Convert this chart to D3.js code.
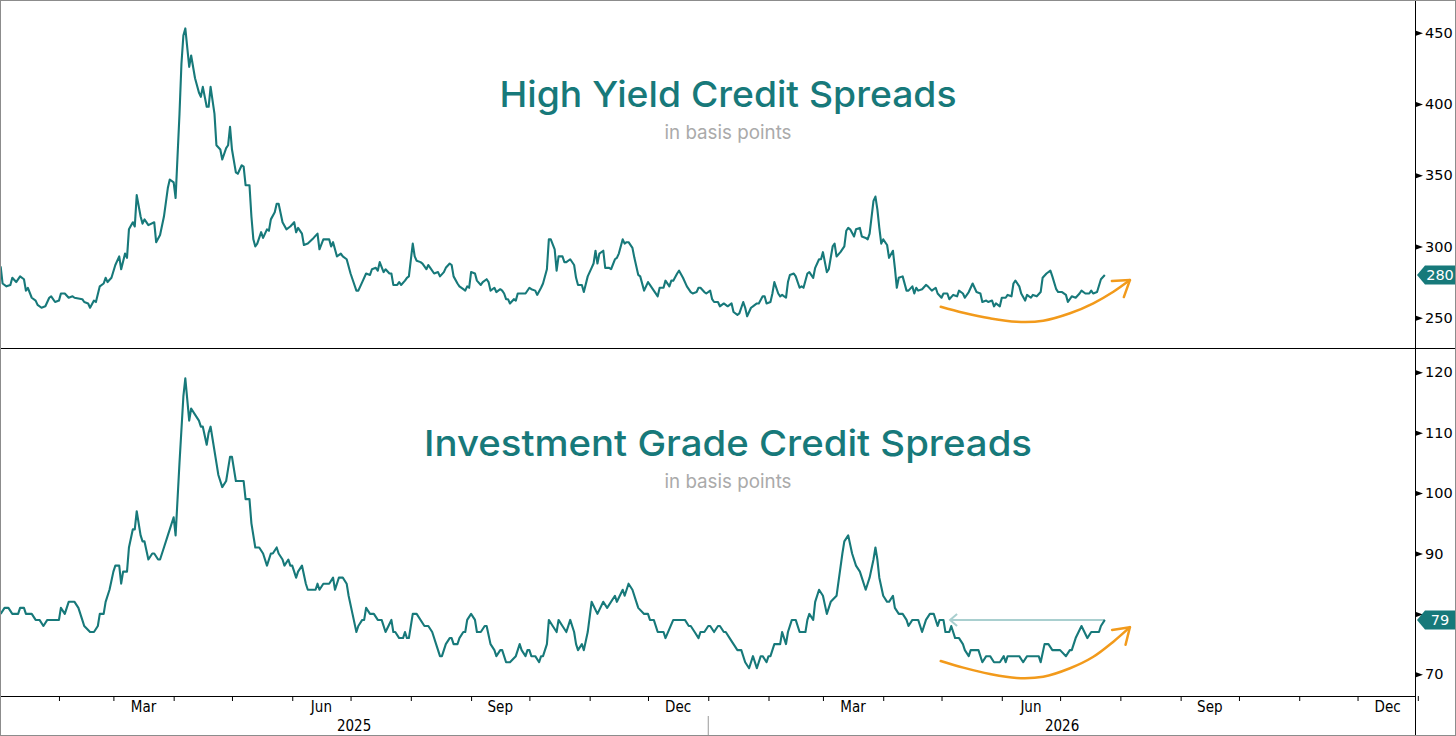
<!DOCTYPE html>
<html>
<head>
<meta charset="utf-8">
<script src="https://cdn.jsdelivr.net/npm/d3@7"></script>
<style>
  html, body { margin: 0; padding: 0; background: #fff; }
  svg { display: block; }
</style>
</head>
<body>
<svg id="chart" width="1456" height="736"></svg>
<script>

/*
	Run the action when the DOM is ready
*/
function whenDocumentLoaded(action) {
	if (document.readyState === "loading") {
		document.addEventListener("DOMContentLoaded", action);
	} else {
		action();
	}
}

// days are counted from 1 Jan 2025
const START = new Date(2025, 0, 1);
const END = new Date(2027, 0, 1);

const HY_DAYS = [1, 2, 4, 6, 7, 9, 11, 13, 14, 15, 17, 19, 20, 22, 24, 26, 27, 29, 31, 32, 34, 36, 38, 39, 43, 44, 46, 47, 49, 50,
    52, 54, 55, 56, 58, 60, 62, 63, 65, 66, 67, 69, 70, 71, 73, 74, 75, 77, 80, 81, 83, 85, 87, 88, 90, 91, 93, 94, 95, 96,
    98, 99, 101, 103, 104, 105, 107, 108, 109, 111, 112, 114, 115, 117, 118, 119, 120, 122, 123, 125, 126, 127, 129, 130, 131, 132, 133, 135, 136, 138,
    139, 140, 142, 143, 144, 146, 148, 150, 152, 153, 154, 156, 157, 159, 162, 164, 165, 167, 170, 171, 172, 174, 176, 177, 179, 181, 182, 184, 185, 187,
    189, 191, 192, 194, 195, 196, 198, 199, 201, 202, 203, 205, 206, 207, 209, 210, 211, 213, 214, 215, 217, 218, 219, 220, 221, 222, 224, 226, 227, 229,
    230, 232, 233, 234, 236, 237, 239, 240, 241, 242, 243, 245, 246, 248, 249, 251, 252, 253, 255, 256, 258, 259, 260, 261, 262, 263, 265, 266, 267, 270,
    271, 273, 274, 276, 277, 279, 280, 282, 283, 284, 286, 287, 288, 290, 291, 292, 294, 296, 297, 298, 300, 301, 303, 305, 306, 307, 308, 309, 311, 312,
    314, 315, 317, 318, 319, 321, 322, 323, 324, 326, 327, 329, 330, 332, 334, 335, 337, 339, 340, 342, 343, 345, 346, 347, 349, 350, 352, 354, 356, 357,
    359, 360, 361, 363, 364, 366, 367, 368, 370, 371, 373, 375, 377, 378, 380, 381, 383, 384, 385, 387, 388, 390, 391, 393, 394, 395, 397, 398, 399, 401,
    402, 403, 405, 406, 407, 409, 410, 412, 413, 414, 416, 417, 419, 420, 422, 423, 424, 426, 427, 429, 430, 431, 433, 435, 436, 437, 438, 440, 441, 443,
    444, 446, 447, 448, 450, 451, 452, 453, 454, 455, 457, 458, 460, 461, 462, 463, 465, 467, 468, 470, 471, 472, 473, 475, 477, 478, 480, 482, 483, 485,
    486, 488, 489, 491, 493, 494, 496, 497, 499, 501, 502, 503, 505, 506, 508, 509, 511, 512, 513, 515, 516, 518, 519, 521, 522, 523, 525, 526, 528, 529,
    531, 532, 534, 536, 537, 539, 541, 542, 544, 545, 547, 549, 550, 552, 554, 556, 557, 559, 561, 562, 563, 565, 567, 569];
const HY_VALUES = [286, 274, 272, 273, 278, 275, 279, 277, 269, 271, 264, 262, 259, 257, 258, 264, 265, 261, 262, 267, 267, 264, 265, 264, 263, 261, 260, 257, 262, 261,
    272, 274, 278, 275, 278, 287, 293, 284, 295, 292, 312, 317, 314, 336, 321, 316, 319, 315, 317, 303, 308, 321, 341, 347, 345, 334, 393, 428, 448, 453,
    426, 434, 418, 408, 405, 412, 398, 398, 412, 393, 371, 368, 361, 369, 371, 384, 368, 352, 351, 357, 356, 343, 343, 321, 305, 300, 302, 310, 306, 312,
    311, 319, 324, 330, 330, 317, 312, 314, 317, 310, 313, 309, 301, 302, 306, 309, 298, 305, 305, 300, 303, 293, 295, 293, 291, 281, 277, 269, 269, 275,
    281, 280, 284, 285, 283, 289, 282, 284, 281, 281, 273, 273, 275, 273, 276, 278, 279, 302, 293, 290, 289, 288, 286, 284, 287, 285, 281, 282, 279, 282,
    285, 288, 287, 279, 274, 272, 270, 269, 272, 271, 282, 281, 276, 273, 275, 277, 275, 269, 271, 268, 270, 269, 267, 263, 263, 260, 263, 262, 267, 267,
    267, 271, 270, 269, 266, 271, 274, 284, 305, 305, 298, 283, 293, 293, 289, 289, 291, 287, 278, 273, 273, 268, 279, 285, 288, 297, 288, 295, 297, 285,
    285, 284, 291, 292, 295, 305, 302, 303, 303, 299, 292, 280, 279, 269, 275, 273, 269, 265, 271, 271, 276, 272, 276, 276, 281, 283, 278, 272, 268, 267,
    268, 271, 271, 268, 267, 269, 263, 261, 261, 258, 260, 258, 260, 254, 252, 253, 261, 257, 251, 257, 258, 260, 260, 265, 265, 260, 261, 267, 275, 267,
    265, 266, 264, 275, 280, 281, 279, 271, 272, 271, 281, 282, 278, 285, 291, 291, 296, 282, 284, 300, 302, 293, 296, 300, 311, 313, 312, 307, 312, 313,
    307, 306, 305, 309, 332, 335, 326, 313, 302, 305, 301, 292, 297, 285, 271, 278, 279, 269, 269, 272, 267, 271, 269, 270, 273, 272, 269, 271, 267, 264,
    267, 267, 263, 266, 265, 269, 267, 264, 268, 274, 271, 268, 267, 261, 262, 261, 262, 258, 260, 258, 264, 264, 266, 265, 274, 276, 272, 267, 262, 266,
    264, 266, 265, 268, 278, 281, 283, 279, 270, 268, 268, 266, 261, 265, 264, 267, 269, 267, 267, 269, 267, 268, 277, 280];

const IG_DAYS = [1, 3, 5, 7, 10, 11, 13, 14, 17, 19, 21, 23, 25, 31, 32, 34, 36, 39, 41, 43, 44, 47, 49, 51, 52, 54, 55, 57, 59, 60,
    62, 63, 64, 66, 67, 69, 70, 71, 73, 74, 75, 77, 79, 80, 82, 83, 85, 87, 88, 90, 91, 93, 95, 96, 98, 99, 101, 103, 104, 105,
    107, 108, 109, 110, 112, 113, 115, 117, 118, 119, 120, 122, 124, 126, 127, 129, 130, 132, 134, 136, 138, 140, 141, 143, 144, 146, 147, 149, 150, 151,
    153, 154, 156, 158, 159, 163, 164, 165, 167, 170, 172, 173, 175, 177, 179, 180, 182, 184, 185, 187, 188, 189, 191, 193, 195, 197, 199, 202, 203, 204,
    206, 208, 209, 210, 211, 213, 215, 219, 221, 223, 225, 227, 228, 230, 232, 233, 234, 236, 237, 239, 240, 241, 243, 245, 246, 248, 250, 251, 253, 255,
    256, 258, 259, 261, 263, 266, 268, 269, 271, 272, 273, 274, 276, 278, 279, 280, 282, 283, 285, 287, 288, 290, 292, 294, 296, 297, 298, 300, 301, 303,
    305, 308, 311, 313, 317, 318, 321, 322, 324, 326, 328, 329, 332, 334, 335, 337, 339, 342, 343, 347, 353, 355, 356, 358, 360, 361, 363, 365, 366, 368,
    370, 371, 373, 374, 376, 378, 380, 382, 384, 386, 388, 390, 392, 393, 395, 396, 397, 399, 402, 403, 405, 406, 408, 410, 412, 415, 416, 417, 419, 420,
    422, 424, 426, 428, 431, 434, 435, 437, 439, 441, 443, 444, 446, 447, 448, 450, 451, 452, 453, 455, 457, 458, 460, 461, 463, 465, 467, 468, 470, 473,
    475, 477, 479, 481, 483, 484, 486, 487, 489, 490, 492, 494, 496, 497, 499, 500, 504, 506, 508, 510, 512, 515, 517, 518, 519, 525, 527, 529, 535, 536,
    538, 540, 542, 546, 549, 551, 552, 554, 557, 560, 562, 566, 567, 569];
const IG_VALUES = [80, 81, 81, 80, 80, 81, 81, 80, 80, 79, 79, 78, 79, 79, 81, 80, 82, 82, 81, 79, 78, 77, 77, 78, 80, 80, 82, 84, 87, 88,
    88, 85, 87, 87, 91, 94, 94, 97, 93, 92, 92, 89, 90, 90, 89, 89, 91, 93, 94, 96, 93, 105, 116, 119, 112, 114, 113, 112, 111, 111,
    108, 110, 111, 109, 105, 103, 101, 102, 104, 106, 106, 102, 102, 102, 99, 99, 95, 91, 91, 90, 88, 90, 90, 91, 90, 89, 88, 89, 88, 88,
    86, 87, 88, 85, 84, 84, 85, 84, 85, 85, 86, 84, 86, 86, 85, 83, 80, 77, 78, 79, 79, 81, 80, 80, 79, 79, 77, 79, 77, 77,
    76, 76, 77, 76, 76, 80, 80, 78, 78, 77, 75, 73, 73, 75, 76, 76, 75, 75, 76, 77, 77, 79, 80, 79, 77, 77, 78, 78, 75, 74,
    73, 74, 74, 72, 72, 73, 75, 74, 73, 74, 74, 73, 73, 72, 73, 73, 75, 79, 78, 77, 79, 78, 77, 79, 77, 75, 74, 75, 74, 77,
    82, 80, 82, 81, 83, 82, 84, 83, 85, 84, 82, 81, 80, 80, 79, 79, 77, 77, 76, 79, 79, 78, 78, 77, 76, 77, 77, 78, 78, 77,
    78, 78, 77, 77, 76, 75, 74, 74, 72, 71, 73, 71, 73, 73, 72, 73, 73, 75, 75, 77, 75, 77, 79, 79, 77, 77, 79, 80, 79, 82,
    84, 83, 80, 82, 83, 90, 92, 93, 90, 88, 87, 86, 84, 85, 86, 89, 91, 89, 86, 83, 82, 82, 83, 81, 80, 80, 79, 78, 79, 79,
    77, 79, 80, 80, 78, 79, 79, 77, 77, 78, 76, 76, 75, 74, 73, 74, 74, 72, 73, 73, 72, 72, 73, 72, 73, 73, 72, 73, 73, 72,
    75, 75, 74, 74, 73, 74, 74, 76, 78, 76, 77, 77, 78, 79];

const HY_TICKS = [250, 300, 350, 400, 450];
const IG_TICKS = [70, 80, 90, 100, 110, 120];
const LABELLED_MONTHS = [2, 5, 8, 11];   // Mar, Jun, Sep, Dec
const YEARS = [2025, 2026];

// hand drawn annotations, written in (day, value) units
const ARROW_DAYS = [484.6, 496.2, 509.9, 523.6, 537.3, 551.1, 563.1, 573.4, 581.9];
const HY_ARROW_VALUES = [257.7, 253.5, 249.6, 247.2, 247.9, 253.1, 260.1, 268.2, 276.4];
const IG_ARROW_VALUES = [72.2, 71.1, 70.05, 69.4, 69.6, 71.0, 72.9, 75.4, 77.8];
const IG_GUIDE_DAYS = [569, 489.4];

const TEAL = '#17797a';
const ORANGE = '#f29a1b';

const dayToDate = d => new Date(+START + d * 864e5);

class SpreadPanel {

	constructor(svg, opts) {
		this.svg = svg;
		this.opts = opts;
		this.x = d3.scaleTime()
			.domain([START, END])
			.range([-1.3, 1417.8]);
		this.y = d3.scaleLinear()
			.domain(opts.yDomain)
			.range(opts.yRange);
	}

	redraw() {
		const o = this.opts;
		const x = this.x, y = this.y;
		const data = o.days.map((d, i) => ({ date: dayToDate(d), v: o.values[i] }));
		const last = data[data.length - 1];

		this.svg.append('clipPath')
			.attr('id', o.id + '-clip')
			.append('rect')
				.attr('x', 0)
				.attr('y', o.top)
				.attr('width', SpreadPanel.PLOT_RIGHT)
				.attr('height', o.bottom - o.top);

		// titles
		this.svg.append('text')
			.attr('x', 728)
			.attr('y', o.titleY)
			.attr('text-anchor', 'middle')
			.attr('textLength', o.titleWidth)
			.attr('lengthAdjust', 'spacingAndGlyphs')
			.style('font-family', 'Inter, "Open Sans", sans-serif')
			.style('font-weight', 500)
			.style('font-size', '36px')
			.style('fill', TEAL)
			.text(o.title);

		this.svg.append('text')
			.attr('x', 728)
			.attr('y', o.titleY + 32)
			.attr('text-anchor', 'middle')
			.attr('textLength', 127)
			.attr('lengthAdjust', 'spacingAndGlyphs')
			.style('font-family', 'Inter, "Open Sans", sans-serif')
			.style('font-size', '19px')
			.style('fill', '#aaaaaa')
			.text('in basis points');

		const g = this.svg.append('g')
			.attr('clip-path', `url(#${o.id}-clip)`);

		// guide line back to the spring level
		if (o.guideDays) {
			g.append('line')
				.attr('x1', x(dayToDate(o.guideDays[0])))
				.attr('x2', x(dayToDate(o.guideDays[1])))
				.attr('y1', y(last.v))
				.attr('y2', y(last.v))
				.attr('stroke', '#a9cfcf')
				.attr('stroke-width', 2)
				.attr('marker-end', 'url(#guide-head)');
		}

		g.append('path')
			.datum(data)
			.attr('fill', 'none')
			.attr('stroke', TEAL)
			.attr('stroke-width', 2.1)
			.attr('stroke-linejoin', 'round')
			.attr('d', d3.line().x(d => x(d.date)).y(d => y(d.v)));

		// orange curved arrow
		const arrow = ARROW_DAYS.map((d, i) => [x(dayToDate(d)), y(o.arrowValues[i])]);
		g.append('path')
			.attr('fill', 'none')
			.attr('stroke', ORANGE)
			.attr('stroke-width', 2.5)
			.attr('stroke-linecap', 'round')
			.attr('marker-end', 'url(#orange-head)')
			.attr('d', d3.line().curve(d3.curveCatmullRom)(arrow));

		// right axis, the label under the last value tag is left out
		const ly = y(last.v);
		const axis = this.svg.append('g')
			.attr('transform', `translate(${SpreadPanel.PLOT_RIGHT},0)`)
			.call(d3.axisRight(y).tickValues(o.ticks).tickSize(0).tickPadding(9));
		axis.select('.domain').remove();
		axis.selectAll('text')
			.attr('font-family', '"DejaVu Sans", Verdana, sans-serif')
			.attr('font-size', 14.5)
			.attr('fill', '#000')
			.filter(t => Math.abs(y(t) - ly) < 14)
			.remove();
		axis.selectAll('.tick').append('path')
			.attr('d', 'M0,-2.5L7,0L0,2.5Z')
			.attr('fill', '#000');

		// last value tag
		const tag = this.svg.append('g');
		tag.append('path')
			.attr('d', `M${SpreadPanel.PLOT_RIGHT + 1},${ly}L${SpreadPanel.PLOT_RIGHT + 9},${ly - 9.5}L1456,${ly - 9.5}L1456,${ly + 9.5}L${SpreadPanel.PLOT_RIGHT + 9},${ly + 9.5}Z`)
			.attr('fill', TEAL);
		tag.append('text')
			.attr('x', 1440)
			.attr('y', ly)
			.attr('dy', '0.36em')
			.attr('text-anchor', 'middle')
			.attr('font-family', '"DejaVu Sans", Verdana, sans-serif')
			.attr('font-size', 14.5)
			.attr('fill', '#fff')
			.text(last.v);
	}
}

SpreadPanel.PLOT_RIGHT = 1416;

whenDocumentLoaded(() => {

	const svg = d3.select('#chart');

	const defs = svg.append('defs');
	defs.append('marker')
		.attr('id', 'orange-head')
		.attr('markerUnits', 'userSpaceOnUse')
		.attr('viewBox', '-20 -13 24 26')
		.attr('markerWidth', 24)
		.attr('markerHeight', 26)
		.attr('refX', 0)
		.attr('refY', 0)
		.attr('orient', 'auto')
		.append('path')
			.attr('d', 'M-15,-10L0,0L-15,10')
			.attr('fill', 'none')
			.attr('stroke', ORANGE)
			.attr('stroke-width', 2.5)
			.attr('stroke-linecap', 'round')
			.attr('stroke-linejoin', 'round');
	defs.append('marker')
		.attr('id', 'guide-head')
		.attr('markerUnits', 'userSpaceOnUse')
		.attr('viewBox', '-10 -8 12 16')
		.attr('markerWidth', 12)
		.attr('markerHeight', 16)
		.attr('refX', 0)
		.attr('refY', 0)
		.attr('orient', 'auto')
		.append('path')
			.attr('d', 'M-7,-6L0,0L-7,6')
			.attr('fill', 'none')
			.attr('stroke', '#a9cfcf')
			.attr('stroke-width', 2);

	const hy = new SpreadPanel(svg, {
		id: 'hy', top: 0, bottom: 348,
		yDomain: [250, 450], yRange: [317.7, 32.7],
		days: HY_DAYS, values: HY_VALUES, ticks: HY_TICKS,
		arrowValues: HY_ARROW_VALUES,
		title: 'High Yield Credit Spreads', titleY: 106.5, titleWidth: 457
	});
	hy.redraw();

	const ig = new SpreadPanel(svg, {
		id: 'ig', top: 348, bottom: 696,
		yDomain: [70, 120], yRange: [674.3, 372.3],
		days: IG_DAYS, values: IG_VALUES, ticks: IG_TICKS,
		arrowValues: IG_ARROW_VALUES, guideDays: IG_GUIDE_DAYS,
		title: 'Investment Grade Credit Spreads', titleY: 456, titleWidth: 608
	});
	ig.redraw();

	// bottom time axis
	const x = hy.x;
	const xAxis = svg.append('g')
		.attr('transform', 'translate(0,696)')
		.call(d3.axisBottom(x).ticks(d3.timeMonth.every(1)).tickSize(5).tickSizeOuter(0).tickFormat(''));
	xAxis.select('.domain').attr('d', `M0,0.5H${SpreadPanel.PLOT_RIGHT}`).attr('stroke', '#000');

	const months = d3.timeMonth.range(START, END).filter(m => LABELLED_MONTHS.includes(m.getMonth()));
	svg.append('g')
		.selectAll('text')
		.data(months)
		.enter()
		.append('text')
			.attr('x', m => (x(m) + x(d3.timeMonth.offset(m, 1))) / 2)
			.attr('y', 712)
			.attr('text-anchor', 'middle')
			.attr('font-family', '"DejaVu Sans Condensed", "DejaVu Sans", sans-serif')
			.attr('font-size', 15)
			.text(d3.timeFormat('%b'));

	svg.append('g')
		.selectAll('text')
		.data(YEARS)
		.enter()
		.append('text')
			.attr('x', yr => (Math.max(0, x(new Date(yr, 0, 1))) + Math.min(SpreadPanel.PLOT_RIGHT, x(new Date(yr + 1, 0, 1)))) / 2)
			.attr('y', 731)
			.attr('text-anchor', 'middle')
			.attr('font-family', '"DejaVu Sans Condensed", "DejaVu Sans", sans-serif')
			.attr('font-size', 15)
			.text(yr => yr);

	svg.append('line')
		.attr('x1', x(new Date(2026, 0, 1)))
		.attr('x2', x(new Date(2026, 0, 1)))
		.attr('y1', 716)
		.attr('y2', 736)
		.attr('stroke', '#999');

	// frame
	svg.append('line')
		.attr('x1', 0).attr('x2', 1456)
		.attr('y1', 348.5).attr('y2', 348.5)
		.attr('stroke', '#000');
	svg.append('line')
		.attr('x1', SpreadPanel.PLOT_RIGHT - 0.5).attr('x2', SpreadPanel.PLOT_RIGHT - 0.5)
		.attr('y1', 0).attr('y2', 736)
		.attr('stroke', '#000');
	svg.append('rect')
		.attr('x', 0.5).attr('y', 0.5)
		.attr('width', 1455).attr('height', 735)
		.attr('fill', 'none')
		.attr('stroke', '#8c8c8c');
});
</script>
</body>
</html>
